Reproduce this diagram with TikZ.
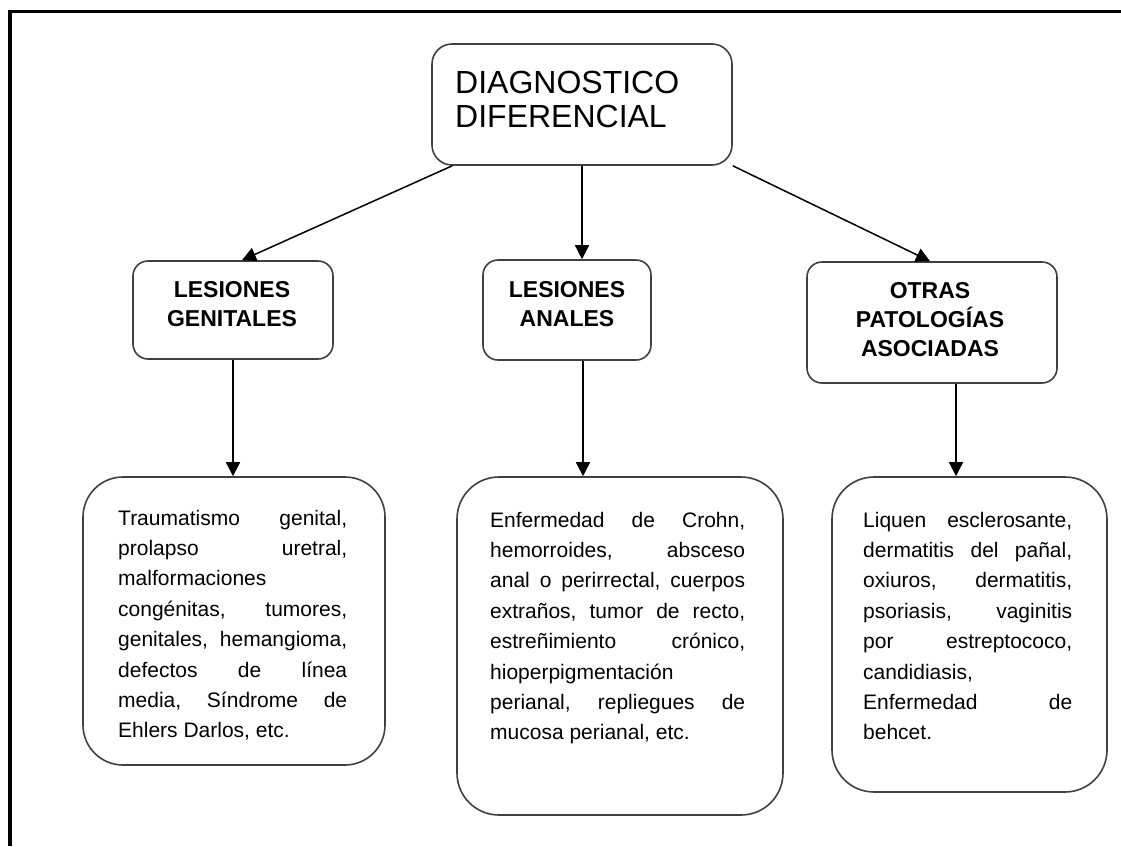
\documentclass[tikz,border=0pt]{standalone}
\usepackage{fontspec}
\setmainfont{Liberation Sans}
\usetikzlibrary{arrows.meta}
\tikzset{
  box/.style={draw=black!75, line width=1.6pt, inner sep=0pt, fill=white},
  txt/.style={inner sep=0pt, text=black},
  arr/.style={draw=black, line width=1.5pt, -{Triangle[length=14pt,width=14pt]}},
  frame/.style={draw=black, line width=3.6pt}
}
\newcommand\bodytext[2]{\parbox[t]{#1}{\fontsize{21pt}{30.4pt}\selectfont #2}}
\newcommand\headtext[2]{\parbox[t]{#1}{\centering\fontsize{23pt}{29pt}\selectfont\bfseries #2}}
\begin{document}
\begin{tikzpicture}[x=1pt,y=-1pt]
\useasboundingbox (0,0) rectangle (1121,846);
\fill[white] (0,0) rectangle (1121,846);
% outer frame (left and top)
\draw[frame, line join=miter] (10,846) -- (10,11.5) -- (1121,11.5);

% top box
\node[box, rounded corners=20pt, minimum width=300pt, minimum height=121pt] (top) at (582,104.5) {};
\node[txt, anchor=base west] (toptext) at (455,93)
  {\parbox[t]{270pt}{\fontsize{32pt}{34pt}\selectfont DIAGNOSTICO\\DIFERENCIAL}};

% second level boxes
\node[box, rounded corners=15pt, minimum width=200pt, minimum height=98pt] (lg) at (233,310) {};
\node[txt, anchor=base] (lgtext) at (232,297) {\headtext{190pt}{LESIONES\\GENITALES}};

\node[box, rounded corners=15pt, minimum width=168pt, minimum height=100pt] (la) at (567,310) {};
\node[txt, anchor=base] (latext) at (567,297) {\headtext{160pt}{LESIONES\\ANALES}};

\node[box, rounded corners=15pt, minimum width=250pt, minimum height=121pt] (ot) at (932,322.5) {};
\node[txt, anchor=base] (ottext) at (930,298) {\headtext{240pt}{OTRAS\\PATOLOGÍAS\\ASOCIADAS}};

% bottom boxes
\node[box, rounded corners=40pt, minimum width=302pt, minimum height=288pt] (bg) at (234,621) {};
\node[txt, anchor=base west] (bgtext) at (118,525) {\bodytext{229pt}{%
Traumatismo\hfill genital,\\
prolapso\hfill uretral,\\
malformaciones\\
congénitas,\hfill tumores,\\
genitales,\hfill hemangioma,\\
defectos\hfill de\hfill línea\\
media,\hfill Síndrome\hfill de\\
Ehlers Darlos, etc.}};

\node[box, rounded corners=42pt, minimum width=326pt, minimum height=338pt] (ba) at (620,646) {};
\node[txt, anchor=base west] (batext) at (490,527) {\bodytext{255pt}{%
Enfermedad\hfill de\hfill Crohn,\\
hemorroides,\hfill absceso\\
anal\hfill o\hfill perirrectal,\hfill cuerpos\\
extraños,\hfill tumor\hfill de\hfill recto,\\
estreñimiento\hfill crónico,\\
hioperpigmentación\\
perianal,\hfill repliegues\hfill de\\
mucosa perianal, etc.}};

\node[box, rounded corners=42pt, minimum width=275pt, minimum height=315pt] (bo) at (969.5,634.5) {};
\node[txt, anchor=base west] (botext) at (863,527) {\bodytext{209pt}{%
Liquen\hfill esclerosante,\\
dermatitis\hfill del\hfill pañal,\\
oxiuros,\hfill dermatitis,\\
psoriasis,\hfill vaginitis\\
por\hfill estreptococo,\\
candidiasis,\\
Enfermedad\hfill de\\
behcet.}};

% connectors
\draw[arr] ([xshift=21pt]top.south west) -- ([xshift=9pt]lg.north);
\draw[arr] (top.south) -- (top.south |- la.north);
\draw[arr] (top.south east) -- ([xshift=-2pt]ot.north);
\draw[arr] (lg.south) -- (lg.south |- bg.north);
\draw[arr] ([xshift=16pt]la.south) -- ([xshift=16pt]la.south |- ba.north);
\draw[arr] ([xshift=24pt]ot.south) -- ([xshift=24pt]ot.south |- bo.north);
\end{tikzpicture}
\end{document}
